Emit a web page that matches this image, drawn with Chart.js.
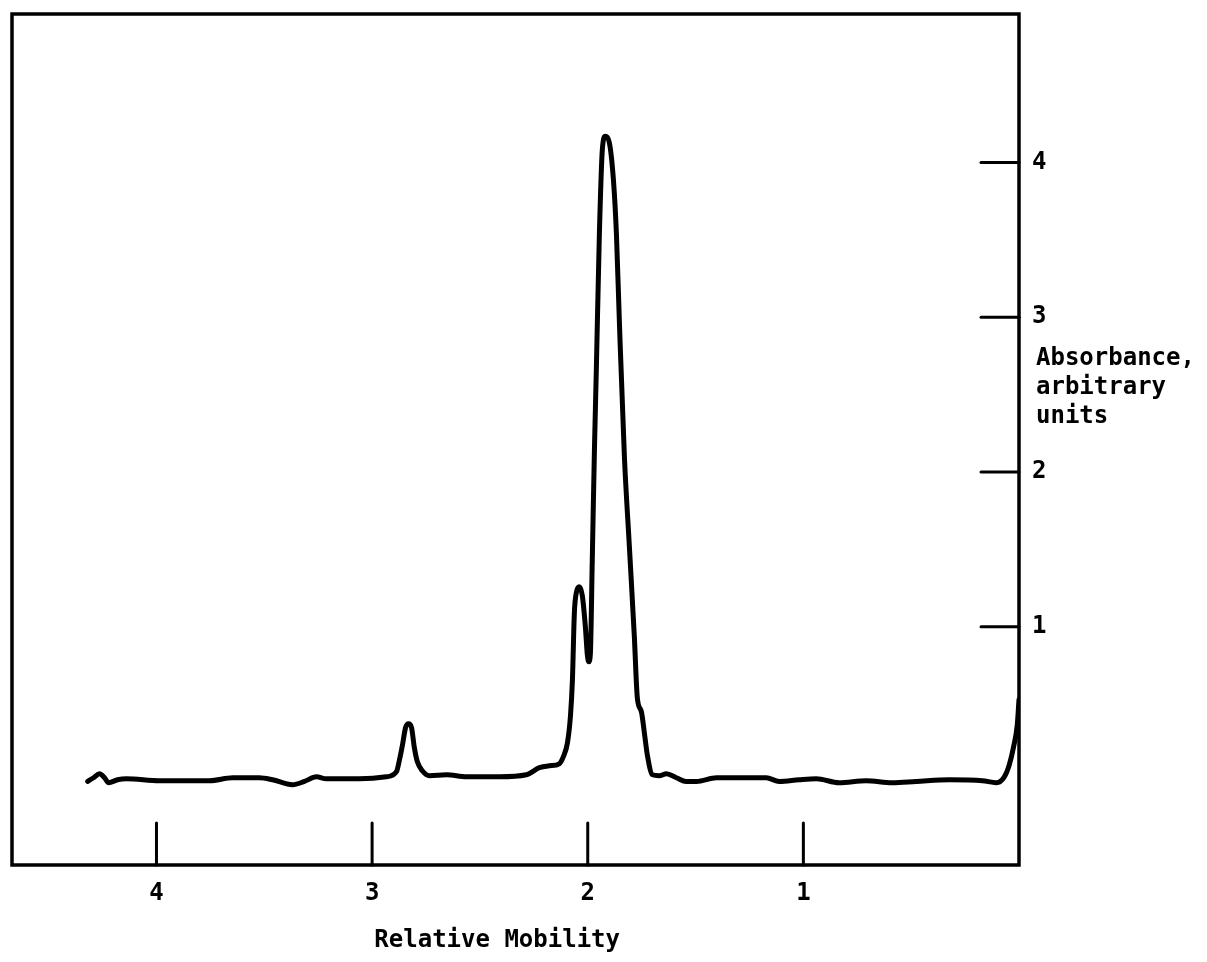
<!DOCTYPE html>
<html lang="en">
<head>
<meta charset="UTF-8">
<title>Relative Mobility</title>
<script src="https://cdn.jsdelivr.net/npm/chart.js"></script>
<style>
  body { margin: 0; background: #fff; }
</style>
</head>
<body>
<canvas id="scan" width="1207" height="962"></canvas>

<script>
  // densitometer scan: absorbance along the gel, read left to right
  const mobility = [
    4.319, 4.292, 4.264, 4.241, 4.222, 4.180, 4.139, 3.986, 3.754, 3.647,
    3.522, 3.462, 3.369, 3.314, 3.258, 3.212, 3.059, 2.934, 2.887, 2.873,
    2.859, 2.845, 2.831, 2.817, 2.804, 2.790, 2.767, 2.734, 2.655, 2.563,
    2.410, 2.285, 2.224, 2.178, 2.132, 2.113, 2.094, 2.080, 2.071, 2.062,
    2.052, 2.039, 2.025, 2.011, 2.002, 1.995, 1.988, 1.979, 1.969, 1.960,
    1.946, 1.932, 1.918, 1.900, 1.881, 1.867, 1.853, 1.830, 1.807, 1.784,
    1.770, 1.751, 1.737, 1.723, 1.700, 1.668, 1.635, 1.589, 1.543, 1.496,
    1.403, 1.297, 1.172, 1.112, 1.019, 0.940, 0.834, 0.709, 0.588, 0.477,
    0.324, 0.170, 0.105, 0.068, 0.045, 0.026, 0.008, 0.0
  ];
  const absorbance = [
    0.00, 0.024, 0.05, 0.024, -0.008, 0.011, 0.017, 0.005, 0.005, 0.024,
    0.024, 0.011, -0.021, 0.00, 0.030, 0.017, 0.017, 0.030, 0.063, 0.14,
    0.237, 0.347, 0.373, 0.347, 0.218, 0.127, 0.069, 0.037, 0.043, 0.030,
    0.030, 0.043, 0.089, 0.101, 0.114, 0.16, 0.25, 0.425, 0.657, 1.09,
    1.226, 1.258, 1.20, 1.0, 0.82, 0.774, 0.82, 1.43, 2.14, 2.67,
    3.54, 4.09, 4.17, 4.13, 3.89, 3.54, 2.96, 2.10, 1.52, 0.94,
    0.54, 0.45, 0.31, 0.166, 0.043, 0.037, 0.05, 0.024, 0.00, 0.00,
    0.024, 0.024, 0.024, 0.00, 0.011, 0.017, -0.008, 0.005, -0.008, 0.00,
    0.011, 0.005, -0.008, 0.030, 0.108, 0.218, 0.367, 0.53
  ];
  const xTicks = [1, 2, 3, 4];
  const yTicks = [1, 2, 3, 4];
  const xTitle = "Relative Mobility";
  const yTitle = ["Absorbance,", "arbitrary", "units"];

  const FONT = "'DejaVu Sans Mono', monospace";

  // box round the plot, inward tick marks and the two axis captions
  const framePlugin = {
    id: "frame",
    afterDraw(chart) {
      const { ctx, chartArea: a, scales } = chart;
      ctx.save();
      ctx.strokeStyle = "#000";
      ctx.lineCap = "round";
      ctx.lineWidth = 3.5;
      ctx.strokeRect(a.left, a.top, a.right - a.left, a.bottom - a.top);

      ctx.lineWidth = 3;
      xTicks.forEach(v => {
        const x = scales.x.getPixelForValue(v);
        ctx.beginPath();
        ctx.moveTo(x, a.bottom);
        ctx.lineTo(x, a.bottom - 42);
        ctx.stroke();
      });
      yTicks.forEach(v => {
        const y = scales.y.getPixelForValue(v);
        ctx.beginPath();
        ctx.moveTo(a.right, y);
        ctx.lineTo(a.right - 38, y);
        ctx.stroke();
      });

      ctx.fillStyle = "#000";
      ctx.font = "bold 24px " + FONT;
      ctx.textBaseline = "middle";
      ctx.textAlign = "left";
      const y0 = scales.y.getPixelForValue(2.73);
      yTitle.forEach((t, i) => ctx.fillText(t, a.right + 17, y0 + i * 29));

      ctx.textAlign = "center";
      ctx.fillText(xTitle, scales.x.getPixelForValue(2.42), a.bottom + 76);
      ctx.restore();
    }
  };

  new Chart(document.getElementById("scan"), {
    type: "line",
    data: {
      datasets: [{
        data: mobility.map((m, i) => ({ x: m, y: absorbance[i] })),
        borderColor: "#000",
        borderWidth: 5,
        pointRadius: 0,
        fill: false,
        cubicInterpolationMode: "monotone",
        borderJoinStyle: "round",
        borderCapStyle: "round"
      }]
    },
    options: {
      responsive: false,
      animation: false,
      layout: { padding: { top: 14, left: 12, right: 0, bottom: 0 } },
      plugins: { legend: { display: false }, tooltip: { enabled: false } },
      scales: {
        x: {
          type: "linear",
          position: "bottom",
          reverse: true,
          min: 0,
          max: 4.67,
          afterBuildTicks: s => { s.ticks = xTicks.map(v => ({ value: v })); },
          afterFit: s => { s.height = 97; s.paddingLeft = 0; s.paddingRight = 0; },
          grid: { display: false, drawTicks: false },
          border: { display: false },
          ticks: {
            font: { family: FONT, size: 24, weight: "bold" },
            color: "#000",
            padding: 14,
            maxRotation: 0
          }
        },
        y: {
          type: "linear",
          position: "right",
          min: -0.54,
          max: 4.96,
          afterBuildTicks: s => { s.ticks = yTicks.map(v => ({ value: v })); },
          afterFit: s => { s.width = 188; s.paddingTop = 0; s.paddingBottom = 0; },
          grid: { display: false, drawTicks: false },
          border: { display: false },
          ticks: {
            font: { family: FONT, size: 24, weight: "bold" },
            color: "#000",
            padding: 13
          }
        }
      }
    },
    plugins: [framePlugin]
  });
</script>
</body>
</html>
